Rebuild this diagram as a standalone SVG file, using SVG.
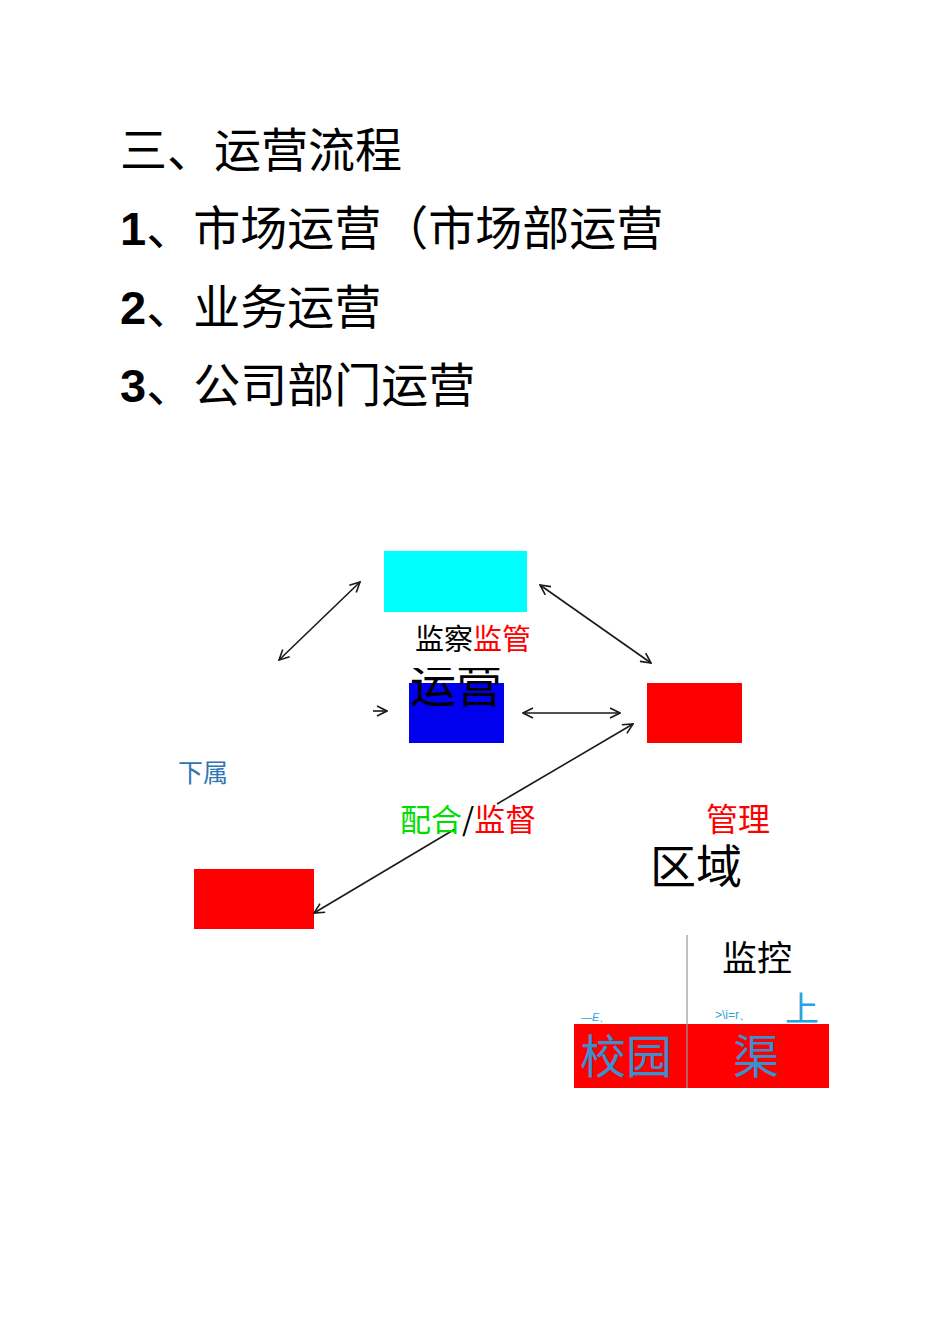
<svg xmlns="http://www.w3.org/2000/svg" width="950" height="1344" viewBox="0 0 950 1344">
<style>
.cjk{font-family:"Noto Sans CJK SC","Noto Sans",sans-serif;}
.num{font-family:"Liberation Sans",Arial,sans-serif;font-weight:bold;}
.conn{stroke:#1a1a1a;stroke-width:1.6;fill:none;}
</style>
<defs>
<marker id="ah" viewBox="0 0 12 12" refX="11" refY="6" markerWidth="12" markerHeight="12" markerUnits="userSpaceOnUse" orient="auto-start-reverse">
<path d="M1,1 L11,6 L1,11" fill="none" stroke="#1a1a1a" stroke-width="1.6"/>
</marker>
<clipPath id="clipYY"><rect x="400" y="668" width="120" height="60"/></clipPath>
</defs>
<rect width="950" height="1344" fill="#fff"/>
<g id="headings" fill="#000">
<text x="120" y="167" font-size="47" class="cjk">三、运营流程</text>
<text x="120" y="245" font-size="47"><tspan class="num">1</tspan><tspan class="cjk">、市场运营（市场部运营</tspan></text>
<text x="120" y="324" font-size="47"><tspan class="num">2</tspan><tspan class="cjk">、业务运营</tspan></text>
<text x="120" y="402" font-size="47"><tspan class="num">3</tspan><tspan class="cjk">、公司部门运营</tspan></text>
</g>
<g id="node-top"><rect x="384" y="551" width="143" height="61" fill="#00ffff"/></g>
<g id="node-center"><rect x="409" y="683" width="95" height="60" fill="#0000ee"/></g>
<g id="node-right"><rect x="647" y="683" width="95" height="60" fill="#ff0000"/></g>
<g id="node-left"><rect x="194" y="869" width="120" height="60" fill="#ff0000"/></g>
<g id="node-bottom"><rect x="574" y="1024" width="255" height="64" fill="#ff0000"/>
<line x1="687" y1="935" x2="687" y2="1088" stroke="#999" stroke-width="1.2"/></g>
<g id="connectors" class="conn">
<line x1="360" y1="582" x2="279" y2="660" class="conn" marker-start="url(#ah)" marker-end="url(#ah)"/>
<line x1="540" y1="585" x2="651" y2="663" class="conn" marker-start="url(#ah)" marker-end="url(#ah)"/>
<line x1="373" y1="711" x2="387" y2="711" class="conn" marker-end="url(#ah)"/>
<line x1="523" y1="713" x2="620" y2="713" class="conn" marker-start="url(#ah)" marker-end="url(#ah)"/>
<line x1="633" y1="724" x2="497" y2="804" class="conn" marker-start="url(#ah)"/>
<line x1="455" y1="829" x2="314" y2="913" class="conn" marker-end="url(#ah)"/>
</g>
<g id="labels" class="cjk">
<text x="415" y="650" font-size="29"><tspan fill="#000">监察</tspan><tspan fill="#ff0000">监管</tspan></text>
<text x="410" y="702" font-size="46" fill="#000" clip-path="url(#clipYY)">运营</text>
<text x="178" y="782" font-size="25" fill="#2e75b6">下属</text>
<text x="400" y="831" font-size="31"><tspan fill="#00dd00">配合</tspan><tspan fill="#000">/</tspan><tspan fill="#ff0000">监督</tspan></text>
<text x="706" y="831" font-size="32" fill="#ff0000">管理</text>
<text x="650" y="883" font-size="46" fill="#000">区域</text>
<text x="722" y="971" font-size="35" fill="#000">监控</text>
<text x="785" y="1021" font-size="34" fill="#29a3e0">上</text>
<text x="581" y="1021" font-size="11" fill="#29a3e0" font-family="Liberation Sans,sans-serif" font-style="italic">—E、</text>
<text x="715" y="1019" font-size="12" fill="#29a3e0" font-family="Liberation Sans,sans-serif">&gt;\i=r、</text>
<text x="580" y="1073" font-size="46" fill="#3a8fd0">校园</text>
<text x="733" y="1073" font-size="46" fill="#3a8fd0">渠</text>
</g>
</svg>
